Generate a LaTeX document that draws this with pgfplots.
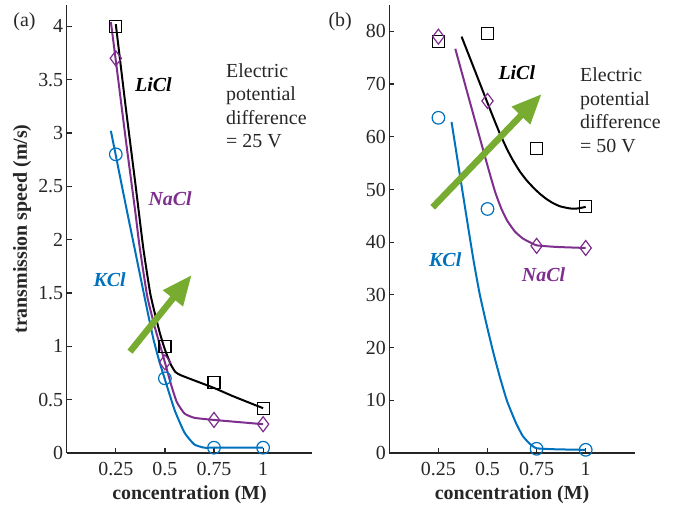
\documentclass[border=0pt]{standalone}
\usepackage{fontspec}
\setmainfont{Liberation Serif}
\usepackage{pgfplots}
\pgfplotsset{compat=1.18}
\usetikzlibrary{arrows.meta}
\definecolor{mblue}{HTML}{0072BD}
\definecolor{mpurple}{HTML}{7E2F8E}
\definecolor{mgreen}{HTML}{77AC30}
\definecolor{axgray}{HTML}{262626}
\newcommand{\tf}{\fontsize{20}{24}\selectfont}
\pgfplotsset{
 panel/.style={
  scale only axis, width=245.5bp, height=448bp,
  xmin=0, xmax=1.25,
  axis lines*=left,
  axis line style={axgray, line width=1.2bp},
  tick align=inside,
  major tick length=5bp,
  tick style={axgray, line width=1.2bp},
  xtick={0.25,0.5,0.75,1}, xticklabels={0.25,0.5,0.75,1},
  tick label style={font=\tf, text=axgray},
  /pgf/number format/assume math mode=true,
  label style={font=\tf\bfseries, text=axgray},
  xlabel={concentration (M)},
  xlabel style={at={(axis description cs:0.5,-0.104)}, anchor=base},
  xticklabel style={yshift=-6bp},
  clip=false,
 },
 fit/.style={line width=2bp, smooth, tension=0.3, no marks},
 sq/.style={only marks, mark=square, mark size=6bp, mark options={line width=1.2bp, draw=black, fill=none}},
 dm/.style={only marks, mark=diamond, mark size=7.5bp, mark options={line width=1.2bp, draw=mpurple, fill=none}},
 ci/.style={only marks, mark=o, mark size=6.3bp, mark options={line width=1.2bp, draw=mblue, fill=none}},
}
\begin{document}
\begin{tikzpicture}
\useasboundingbox (0,0) rectangle (684bp,509bp);
% ---------------- (a) ----------------
\begin{axis}[panel, at={(66.7bp,56bp)}, anchor=south west,
  ymin=0, ymax=4.2, ytick={0,0.5,1,1.5,2,2.5,3,3.5,4},
  ylabel={transmission speed (m/s)},
  ylabel style={at={(axis description cs:-0.162,0.5)}, anchor=base}]
\addplot[fit, black] coordinates {(0.25,4.02) (0.30,3.25) (0.35,2.52) (0.39,1.92) (0.425,1.5) (0.45,1.3) (0.475,1.12) (0.50,0.97) (0.53,0.83) (0.553,0.76) (0.58,0.73) (0.65,0.68) (0.75,0.61) (0.85,0.53) (1.0,0.42)};
\addplot[fit, mpurple] coordinates {(0.225,4.04) (0.25,3.68) (0.30,2.95) (0.35,2.25) (0.37,1.95) (0.41,1.47) (0.45,1.17) (0.48,0.98) (0.50,0.85) (0.53,0.65) (0.56,0.48) (0.60,0.37) (0.65,0.33) (0.75,0.31) (1.0,0.27)};
\addplot[fit, mblue] coordinates {(0.225,3.02) (0.25,2.79) (0.30,2.33) (0.35,1.88) (0.40,1.43) (0.44,1.08) (0.47,0.87) (0.50,0.69) (0.55,0.40) (0.60,0.19) (0.65,0.08) (0.70,0.05) (0.75,0.05) (1.0,0.05)};
\addplot[sq] coordinates {(0.25,4.0) (0.5,1.0) (0.75,0.66) (1,0.42)};
\addplot[dm] coordinates {(0.25,3.7) (0.5,0.85) (0.75,0.31) (1,0.27)};
\addplot[ci] coordinates {(0.25,2.8) (0.5,0.7) (0.75,0.05) (1,0.05)};
\end{axis}
% ---------------- (b) ----------------
\begin{axis}[panel, at={(389.3bp,56bp)}, anchor=south west,
  ymin=0, ymax=85, ytick={0,10,20,30,40,50,60,70,80}]
\addplot[fit, black] coordinates {(0.368,79.0) (0.43,73.1) (0.495,66.9) (0.53,63.6) (0.563,60.6) (0.60,57.6) (0.63,55.5) (0.665,53.4) (0.70,51.7) (0.735,50.3) (0.766,49.2) (0.80,48.2) (0.834,47.4) (0.87,46.8) (0.919,46.4) (0.96,46.4) (1.0,46.7)};
\addplot[fit, mpurple] coordinates {(0.336,76.7) (0.40,68.0) (0.44,62.6) (0.48,57.2) (0.51,53.2) (0.54,49.4) (0.57,46.4) (0.60,44.1) (0.64,42.0) (0.68,40.7) (0.72,39.9) (0.75,39.4) (0.85,39.1) (1.0,38.9)};
\addplot[fit, mblue] coordinates {(0.317,62.8) (0.36,52.6) (0.40,43.2) (0.43,36.3) (0.46,30.2) (0.495,24.4) (0.53,19.0) (0.563,14.4) (0.60,9.8) (0.646,5.6) (0.68,3.2) (0.714,1.8) (0.75,0.9) (0.85,0.7) (1.0,0.6)};
\addplot[sq] coordinates {(0.25,78.0) (0.5,79.6) (0.75,57.8) (1,46.7)};
\addplot[dm] coordinates {(0.25,79.0) (0.5,66.8) (0.75,39.3) (1,38.9)};
\addplot[ci] coordinates {(0.25,63.6) (0.5,46.3) (0.75,0.8) (1,0.6)};
\end{axis}
% arrows
\draw[mgreen, line width=6.5bp, -{Triangle[length=30bp,width=24bp]}] (130bp,157.3bp) -- (191.7bp,234bp);
\draw[mgreen, line width=6.5bp, -{Triangle[length=30bp,width=24bp]}] (432.7bp,301.7bp) -- (541.7bp,415bp);
% annotations
\begin{scope}[every node/.style={anchor=base west, inner sep=0pt, font=\tf, text=axgray}]
\node at (13.3bp,482bp) {(a)};
\node at (328.3bp,482bp) {(b)};
\node[font=\tf\bfseries\itshape, text=black] at (135bp,417.3bp) {LiCl};
\node[font=\tf\bfseries\itshape, text=mpurple] at (148.3bp,303bp) {NaCl};
\node[font=\tf\bfseries\itshape, text=mblue] at (93.3bp,222.3bp) {KCl};
\node at (226bp,431.3bp) {Electric};
\node at (226bp,408.1bp) {potential};
\node at (226bp,384.9bp) {difference};
\node at (226bp,361.7bp) {= 25 V};
\node[font=\tf\bfseries\itshape, text=black] at (498.3bp,429.7bp) {LiCl};
\node[font=\tf\bfseries\itshape, text=mblue] at (429bp,242.3bp) {KCl};
\node[font=\tf\bfseries\itshape, text=mpurple] at (521.7bp,227.3bp) {NaCl};
\node at (580bp,427.3bp) {Electric};
\node at (580bp,403.8bp) {potential};
\node at (580bp,380.3bp) {difference};
\node at (580bp,356.8bp) {= 50 V};
\end{scope}
\end{tikzpicture}
\end{document}
